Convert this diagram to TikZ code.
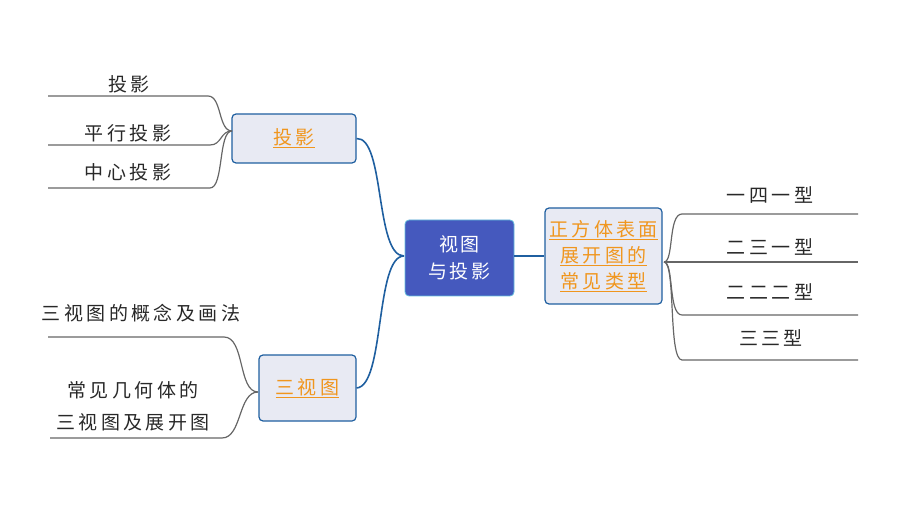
\documentclass[tikz,border=0pt]{standalone}
\usepackage{fontspec}
\newfontfamily\cjk[LetterSpace=18]{Noto Sans CJK SC}
\newfontfamily\cjkc[LetterSpace=12]{Noto Sans CJK SC}
\definecolor{cblue}{RGB}{69,89,190}
\definecolor{cedge}{RGB}{31,95,160}
\definecolor{clight}{RGB}{232,234,243}
\definecolor{corange}{RGB}{240,150,30}
\definecolor{cgray}{RGB}{102,102,102}
\definecolor{ctext}{RGB}{40,40,40}
\definecolor{ccyan}{RGB}{100,190,220}
\tikzset{
  centerbox/.style={draw=ccyan, line width=0.8pt, fill=cblue, rounded corners=4pt, text=white, align=center, inner sep=0pt, font=\cjkc\fontsize{19}{27}\selectfont},
  topicbox/.style={draw=cedge, line width=1.2pt, fill=clight, rounded corners=4pt, text=corange, align=center, inner sep=0pt, font=\cjk\fontsize{19}{26}\selectfont},
  leaf/.style={text=ctext, align=center, inner sep=0pt, font=\cjk\fontsize{19}{32}\selectfont},
  mainlink/.style={draw=cedge, line width=1.6pt},
  leaflink/.style={draw=cgray, line width=1.2pt},
}
\begin{document}
\begin{tikzpicture}[x=1pt,y=-1pt]
\useasboundingbox (0,0) rectangle (920,518);
% nodes
\node[centerbox, minimum width=109pt, minimum height=76pt] (center) at (459.5,258) {视图\\与投影};
\node[topicbox, minimum width=117pt, minimum height=96pt] (cube) at (603.5,256) {\underline{正方体表面}\\\underline{展开图的}\\\underline{常见类型}};
\node[topicbox, minimum width=124pt, minimum height=49pt] (proj) at (294,138.5) {\underline{投影}};
\node[topicbox, minimum width=97pt, minimum height=66pt] (three) at (307.5,388) {\underline{三视图}};
% main connectors
\coordinate (cj) at (404,256);
\draw[mainlink] (proj.east) .. controls (385,137) and (375,256) .. (cj);
\draw[mainlink] (three.east) .. controls (385,386) and (375,256) .. (cj);
\draw[mainlink] (center.east |- cube.west) -- (cube.west);
% left leaves of proj
\coordinate (pj) at (232,131);
\coordinate (p1) at (48,96);
\coordinate (p2) at (48,145);
\coordinate (p3) at (48,188);
\draw[leaflink] (p1) -- (208,96) .. controls (222,96) and (218,131) .. (pj);
\draw[leaflink] (p2) -- (210,145) .. controls (222,145) and (220,131) .. (pj);
\draw[leaflink] (p3) -- (210,188) .. controls (224,188) and (218,131) .. (pj);
\node[leaf] (l1) at (129,84) {投影};
\node[leaf] (l2) at (128,133) {平行投影};
\node[leaf] (l3) at (128,172) {中心投影};
% left leaves of three
\coordinate (tj) at (258,392);
\coordinate (t1) at (48,337);
\coordinate (t2) at (50,438);
\draw[leaflink] (t1) -- (224,337) .. controls (245,337) and (238,392) .. (tj);
\draw[leaflink] (t2) -- (222,438) .. controls (242,438) and (238,392) .. (tj);
\node[leaf] (l4) at (141,313) {三视图的概念及画法};
\node[leaf] (l5) at (133,406) {常见几何体的\\三视图及展开图};
% right leaves
\coordinate (rj) at (664,262);
\coordinate (r1) at (858,214);
\coordinate (r2) at (858,262);
\coordinate (r3) at (858,315);
\coordinate (r4) at (858,360);
\draw[leaflink] (rj) .. controls (674,262) and (668,214) .. (682,214) -- (r1);
\draw[leaflink] (rj) -- (r2);
\draw[leaflink] (rj) .. controls (674,262) and (668,315) .. (682,315) -- (r3);
\draw[leaflink] (rj) .. controls (676,262) and (668,360) .. (682,360) -- (r4);
\node[leaf] (r1t) at (770,195) {一四一型};
\node[leaf] (r2t) at (770,247) {二三一型};
\node[leaf] (r3t) at (770,292) {二二二型};
\node[leaf] (r4t) at (771,338) {三三型};
\end{tikzpicture}
\end{document}
